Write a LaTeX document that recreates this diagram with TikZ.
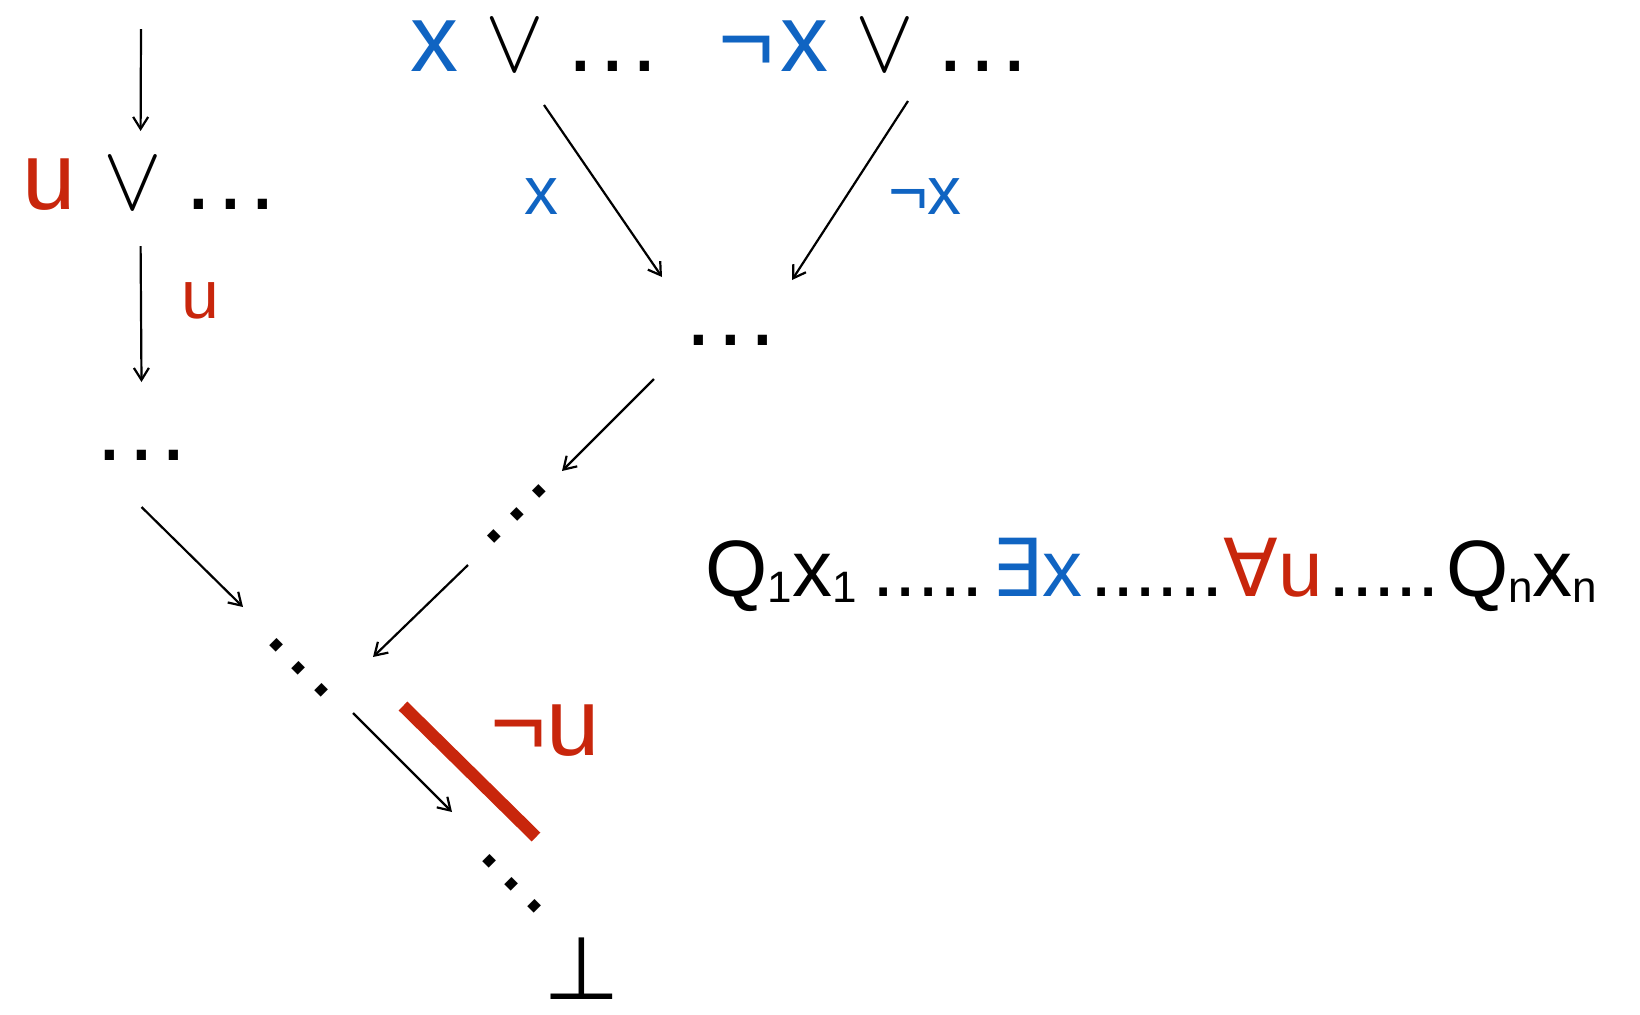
\documentclass[tikz,border=0pt]{standalone}
\usepackage{fontspec}
\setmainfont{Liberation Sans}
\newfontfamily\symf{DejaVu Sans}
\usetikzlibrary{arrows.meta,positioning,calc}

\definecolor{varred}{RGB}{200,38,12}
\definecolor{varblue}{RGB}{16,100,194}

\newcommand{\dts}{.\kern2.6pt.\kern2.6pt.}
\newcommand{\orr}{\scalebox{4.4}[4.6]{\fontsize{10}{12}\selectfont$\vee$}}
\newcommand{\sbs}[1]{{\fontsize{22}{22}\selectfont\raisebox{-3pt}{#1}}}

\begin{document}
\begin{tikzpicture}[
  x=0.5pt, y=-0.5pt,
  term/.style={inner sep=0pt, anchor=base west, font=\fontsize{48}{48}\selectfont},
  lbl/.style={inner sep=0pt, font=\fontsize{34}{34}\selectfont},
  dotsd/.style={inner sep=0pt, font=\fontsize{48}{48}\selectfont},
  arrow/.style={-{Straight Barb[length=6pt,width=7.5pt]}, line width=1.1pt},
  cut/.style={draw=varred, line width=6.2pt},
]
  \useasboundingbox (0,0) rectangle (1640,1014);

  % clauses
  \node[term] (cu) at (22.6,209) {\textcolor{varred}{u}\hspace{13.6pt}\orr\hspace{11.5pt}\dts};
  \node[term] (cx) at (410,71) {\textcolor{varblue}{x}\hspace{13.6pt}\orr\hspace{11.5pt}\dts};
  \node[term] (cnx) at (718,71) {\textcolor{varblue}{¬\kern3pt x}\hspace{13.6pt}\orr\hspace{11.5pt}\dts};

  % derivation dots
  \node[dotsd, anchor=base] (dl) at (141.5,460) {\dts};
  \node[dotsd, anchor=base] (dm) at (730.5,345) {\dts};
  \node[dotsd, rotate=45] (du) at (517,514) {\dts};
  \node[dotsd, rotate=-45] (dd1) at (299,668) {\dts};
  \node[dotsd, rotate=-45] (dd2) at (512,884) {\dts};
  \node[inner sep=0pt, anchor=base, font=\symf\fontsize{44}{44}\selectfont] (bot) at (582,999) {⊥};

  % labels
  \node[lbl, text=varred] (lu) at (200,301) {u};
  \node[lbl, text=varblue] (lx) at (541,197) {x};
  \node[lbl, text=varblue] (lnx) at (925,197) {¬x};
  \node[term, text=varred] (lnu) at (490,755) {¬u};

  % quantifier prefix
  \node[term, font=\fontsize{40}{40}\selectfont] (pre) at (705,596)
    {Q\sbs{1}x\sbs{1}\hspace{8pt}.....\hspace{4pt}\textcolor{varblue}{{\symf ∃}x}\hspace{4pt}......\textcolor{varred}{{\symf ∀}u}\hspace{3pt}.....\hspace{3pt}Q\sbs{n}x\sbs{n}};

  \coordinate (top) at (141,29);
  \draw[arrow] (top) -- ($(cu.base west)+(118,-78)$);
  \draw[arrow] ($(cu.base west)+(118,37)$) -- ($(dl.base)+(0,-78)$);
  \draw[arrow] ($(dl.base)+(0,47)$) -- ($(dd1)+(-56,-61)$);
  \draw[arrow] ($(dd1)+(54,45)$) -- ($(dd2)+(-60,-72)$);
  \draw[arrow] ($(cx.base west)+(134,34)$) -- ($(dm.base)+(-68.5,-68)$);
  \draw[arrow] ($(cnx.base west)+(190,30)$) -- ($(dm.base)+(61.5,-65)$);
  \draw[arrow] ($(dm.base)+(-76.5,34)$) -- ($(du)+(45,-43)$);
  \draw[arrow] ($(du)+(-49,51)$) -- ($(dd1)+(74,-11)$);

  \draw[cut] ($(dd1)+(104,38)$) -- ($(dd2)+(24,-47)$);
\end{tikzpicture}
\end{document}
